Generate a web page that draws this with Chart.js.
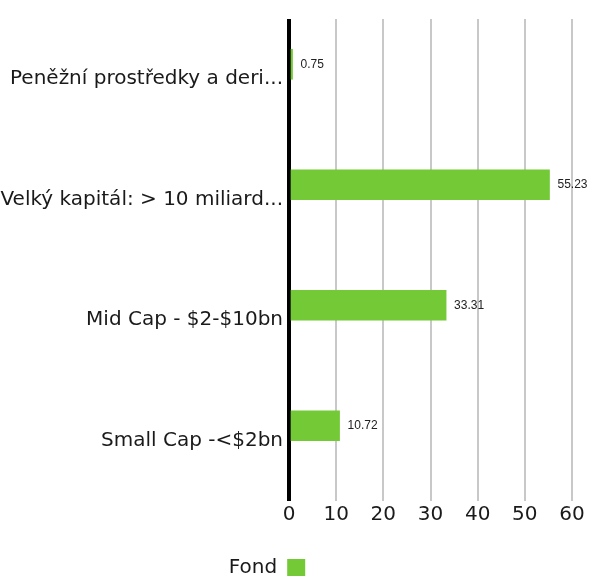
<!DOCTYPE html>
<html>
<head>
<meta charset="utf-8">
<script src="https://cdn.jsdelivr.net/npm/chart.js@4"></script>
<style>
  html, body { margin: 0; padding: 0; background: #fff; overflow: hidden; }
  #wrap { width: 595px; height: 588px; position: relative; }
</style>
</head>
<body>
<div id="wrap"><canvas id="chartAllocation"></canvas></div>
<script>
// data
var categories = ['Peněžní prostředky a deri...', 'Velký kapitál: > 10 miliard...', 'Mid Cap - $2-$10bn', 'Small Cap -<$2bn'];
var fondValues = [0.75, 55.23, 33.31, 10.72];
var emptyValues = [null, null, null, null];
var xTicks = [0, 10, 20, 30, 40, 50, 60];

var FONT = 'DejaVu Sans';

// simple value labels next to the bars
var valueLabels = {
  id: 'valueLabels',
  afterDatasetsDraw: function(chart) {
    var ctx = chart.ctx;
    var meta = chart.getDatasetMeta(0);
    ctx.save();
    ctx.font = '12px "Liberation Sans"';
    ctx.fillStyle = '#222';
    ctx.textBaseline = 'middle';
    ctx.textAlign = 'left';
    meta.data.forEach(function(bar, i) {
      ctx.fillText(String(fondValues[i]), bar.x + 8, bar.y);
    });
    ctx.restore();
  }
};

var config = {
  type: 'bar',
  data: {
    labels: categories,
    datasets: [
      {
        label: 'Fond',
        data: fondValues,
        backgroundColor: '#73c936',
        borderWidth: 0,
        barThickness: 30
      },
      {
        // empty second series, keeps the Fond bars in the upper slot
        label: '',
        data: emptyValues,
        backgroundColor: 'rgba(0,0,0,0)',
        borderWidth: 0,
        barThickness: 30
      }
    ]
  },
  options: {
    indexAxis: 'y',
    responsive: true,
    maintainAspectRatio: false,
    animation: false,
    layout: { padding: { top: 19, right: 23, left: 0, bottom: 0 } },
    plugins: {
      tooltip: { enabled: false },
      legend: {
        position: 'bottom',
        rtl: true,
        reverse: true,
        title: { display: true, text: '', font: { size: 10 }, padding: { top: 0, bottom: 7 } },
        labels: {
          color: '#1a1a1a',
          boxWidth: 18,
          boxHeight: 18,
          font: { family: FONT, size: 20 },
          padding: 10
        }
      }
    },
    scales: {
      x: {
        min: 0,
        max: 60,
        afterBuildTicks: function(scale) {
          scale.ticks = xTicks.map(function(v) { return { value: v }; });
        },
        border: { display: false },
        grid: {
          drawTicks: false,
          color: function(c) { return c.tick && c.tick.value === 0 ? '#000' : '#c8c8c8'; },
          lineWidth: function(c) { return c.tick && c.tick.value === 0 ? 4 : 2; }
        },
        ticks: {
          color: '#1a1a1a',
          padding: 2,
          font: { family: FONT, size: 20 }
        }
      },
      y: {
        afterFit: function(scale) { scale.width = 289; },
        border: { display: false },
        grid: { display: false, drawTicks: false },
        ticks: {
          color: '#1a1a1a',
          padding: 6,
          font: { family: FONT, size: 20 }
        }
      }
    }
  },
  plugins: [valueLabels]
};

var ctx = document.getElementById('chartAllocation').getContext('2d');
var allocationChart = new Chart(ctx, config);
</script>
</body>
</html>
